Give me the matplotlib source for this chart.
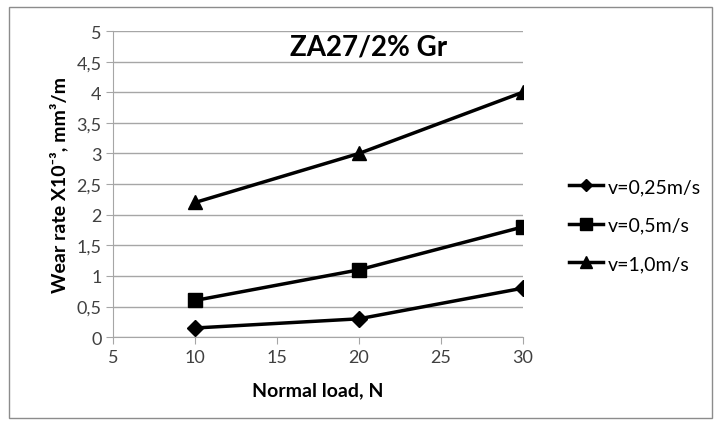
import matplotlib.pyplot as plt
from matplotlib.ticker import FuncFormatter, MultipleLocator

plt.rcParams['font.family'] = ['Lato', 'DejaVu Sans']

# Wear rate vs. normal load for three sliding speeds
loads = [10, 20, 30]
wear_025 = [0.15, 0.3, 0.8]
wear_05 = [0.6, 1.1, 1.8]
wear_10 = [2.2, 3.0, 4.0]
labels = ['v=0,25m/s', 'v=0,5m/s', 'v=1,0m/s']

fig = plt.figure(figsize=(7.21, 4.27), dpi=100)
ax = fig.add_axes([0.157, 0.208, 0.568, 0.717])

ax.plot(loads, wear_025, color='black', lw=2.5, marker='D', ms=8, label=labels[0])
ax.plot(loads, wear_05, color='black', lw=2.5, marker='s', ms=10, label=labels[1])
ax.plot(loads, wear_10, color='black', lw=2.5, marker='^', ms=10, label=labels[2])

ax.set_xlim(5, 30)
ax.set_ylim(0, 5)
ax.xaxis.set_major_locator(MultipleLocator(5))
ax.yaxis.set_major_locator(MultipleLocator(0.5))
comma = FuncFormatter(lambda v, p: f'{v:g}'.replace('.', ','))
ax.xaxis.set_major_formatter(comma)
ax.yaxis.set_major_formatter(comma)

ax.grid(axis='y', color='#a6a6a6', lw=1)
ax.set_axisbelow(True)
for s in ['top', 'right']:
    ax.spines[s].set_visible(False)
for s in ['left', 'bottom']:
    ax.spines[s].set_color('#a6a6a6')
ax.tick_params(colors='#a6a6a6', labelcolor='#404040', labelsize=13, length=5)

ax.set_xlabel('Normal load, N', fontsize=14, fontweight='bold', labelpad=12)
ax.set_ylabel('Wear rate X10⁻³, mm³/m', fontsize=14, fontweight='bold', labelpad=6)

ax.text(20.6, 4.75, 'ZA27/2% Gr', fontsize=20, fontweight='bold',
        ha='center', va='center')

ax.legend(loc='center left', bbox_to_anchor=(1.07, 0.366), frameon=False,
          fontsize=14, handlelength=1.75, handletextpad=0.25, labelspacing=1.1,
          markerscale=0.8)

fig.add_artist(plt.Rectangle((0.012, 0.018), 0.976, 0.964, transform=fig.transFigure,
                             fill=False, edgecolor='#8c8c8c', lw=1))

fig.savefig('out.png', dpi=100)
